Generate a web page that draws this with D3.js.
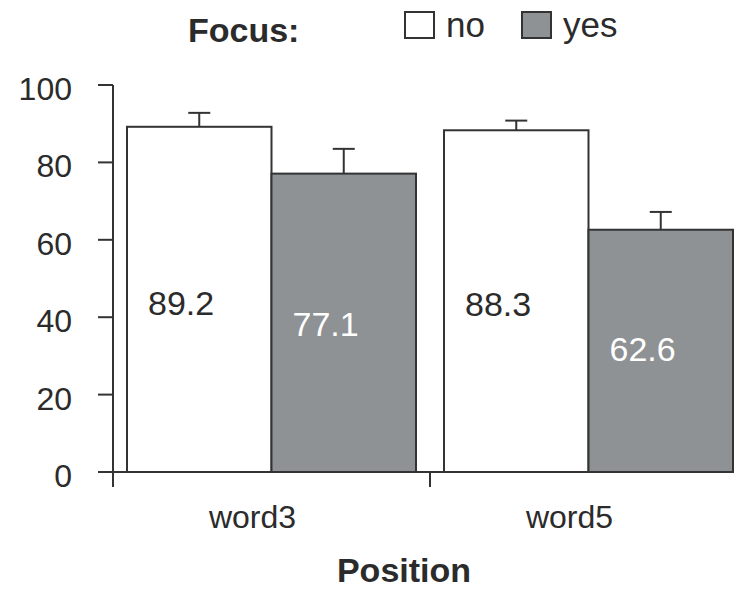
<!DOCTYPE html>
<html>
<head>
<meta charset="utf-8">
<script src="https://cdn.jsdelivr.net/npm/d3@7"></script>
<style>
	body { margin: 0; background: #fff; }
	svg text { font-family: "Liberation Sans", Arial, Helvetica, sans-serif; fill: #2b2b2b; }
	.bold { font-weight: bold; }
</style>
</head>
<body>
<div id="chart-area"></div>
<script>

// data
var positions = ["word3", "word5"];
var focusLevels = ["no", "yes"];
var meanNo = [89.2, 88.3];
var meanYes = [77.1, 62.6];
var errNo = [3.6, 2.5];
var errYes = [6.4, 4.6];
var yTicks = [0, 20, 40, 60, 80, 100];

/*
 * BarVis - grouped bars with error bars
 */
BarVis = function(_parentElement, _data){
	this.parentElement = _parentElement;
	this.data = _data;
	this.initVis();
}

BarVis.prototype.initVis = function(){
	var vis = this;

	vis.width = 738;
	vis.height = 590;

	vis.svg = d3.select("#" + vis.parentElement).append("svg")
		.attr("width", vis.width)
		.attr("height", vis.height);

	vis.stroke = "#333333";
	vis.colors = { no: "#ffffff", yes: "#8f9294" };

	// Scales
	vis.y = d3.scaleLinear()
		.domain([0, 100])
		.range([472, 85]);

	vis.x0 = d3.scaleBand()
		.domain(positions)
		.range([113, 747]);

	vis.x1 = d3.scaleBand()
		.domain(focusLevels)
		.range([14, vis.x0.bandwidth() - 14]);

	vis.updateVis();
}

BarVis.prototype.updateVis = function(){
	var vis = this;

	// y axis: ticks to the left, line running a bit below zero
	var yAxis = vis.svg.append("g").attr("class", "y-axis");

	yAxis.append("line")
		.attr("x1", 113).attr("x2", 113)
		.attr("y1", vis.y(100)).attr("y2", vis.y(0) + 15)
		.attr("stroke", vis.stroke).attr("stroke-width", 2);

	yAxis.selectAll(".tick")
		.data(yTicks)
		.enter().append("line")
		.attr("x1", 98).attr("x2", 113)
		.attr("y1", function(d){ return vis.y(d); })
		.attr("y2", function(d){ return vis.y(d); })
		.attr("stroke", vis.stroke).attr("stroke-width", 2);

	yAxis.selectAll(".tick-label")
		.data(yTicks)
		.enter().append("text")
		.attr("x", 72)
		.attr("y", function(d){ return vis.y(d) + 15; })
		.attr("text-anchor", "end")
		.style("font-size", "32px")
		.text(function(d){ return d; });

	// groups
	var groups = vis.svg.selectAll(".group")
		.data(vis.data)
		.enter().append("g")
		.attr("class", "group")
		.attr("transform", function(d){ return "translate(" + vis.x0(d.position) + ",0)"; });

	groups.selectAll("rect")
		.data(function(d){ return d.values; })
		.enter().append("rect")
		.attr("x", function(d){ return vis.x1(d.focus); })
		.attr("y", function(d){ return vis.y(d.mean); })
		.attr("width", vis.x1.bandwidth())
		.attr("height", function(d){ return vis.y(0) - vis.y(d.mean); })
		.attr("fill", function(d){ return vis.colors[d.focus]; })
		.attr("stroke", vis.stroke)
		.attr("stroke-width", 2);

	// error bars (upper only)
	groups.selectAll(".err")
		.data(function(d){ return d.values; })
		.enter().append("line")
		.attr("class", "err")
		.attr("x1", function(d){ return vis.x1(d.focus) + vis.x1.bandwidth() / 2; })
		.attr("x2", function(d){ return vis.x1(d.focus) + vis.x1.bandwidth() / 2; })
		.attr("y1", function(d){ return vis.y(d.mean); })
		.attr("y2", function(d){ return vis.y(d.mean + d.err); })
		.attr("stroke", vis.stroke).attr("stroke-width", 2);

	groups.selectAll(".cap")
		.data(function(d){ return d.values; })
		.enter().append("line")
		.attr("class", "cap")
		.attr("x1", function(d){ return vis.x1(d.focus) + vis.x1.bandwidth() / 2 - 11; })
		.attr("x2", function(d){ return vis.x1(d.focus) + vis.x1.bandwidth() / 2 + 11; })
		.attr("y1", function(d){ return vis.y(d.mean + d.err); })
		.attr("y2", function(d){ return vis.y(d.mean + d.err); })
		.attr("stroke", vis.stroke).attr("stroke-width", 2);

	// value labels inside bars
	groups.selectAll(".val")
		.data(function(d){ return d.values; })
		.enter().append("text")
		.attr("class", "val")
		.attr("x", function(d){ return vis.x1(d.focus) + 21; })
		.attr("y", function(d){ return vis.y(d.mean * 0.45) - 2; })
		.style("font-size", "34px")
		.style("fill", function(d){ return d.focus == "yes" ? "#ffffff" : "#2b2b2b"; })
		.text(function(d){ return d.mean.toFixed(1); });

	// x axis
	var xAxis = vis.svg.append("g").attr("class", "x-axis");

	xAxis.append("line")
		.attr("x1", 98).attr("x2", 734)
		.attr("y1", vis.y(0)).attr("y2", vis.y(0))
		.attr("stroke", vis.stroke).attr("stroke-width", 2);

	xAxis.append("line")
		.attr("x1", vis.x0("word5")).attr("x2", vis.x0("word5"))
		.attr("y1", vis.y(0)).attr("y2", vis.y(0) + 15)
		.attr("stroke", vis.stroke).attr("stroke-width", 2);

	xAxis.selectAll(".x-label")
		.data(positions)
		.enter().append("text")
		.attr("x", function(d){ return vis.x0(d) + vis.x0.bandwidth() / 2 - 19; })
		.attr("y", 528)
		.attr("text-anchor", "middle")
		.style("font-size", "32px")
		.text(function(d){ return d; });

	vis.svg.append("text")
		.attr("class", "bold")
		.attr("x", 404)
		.attr("y", 582)
		.attr("text-anchor", "middle")
		.style("font-size", "34px")
		.text("Position");

	// legend
	vis.svg.append("text")
		.attr("class", "bold")
		.attr("x", 188)
		.attr("y", 42)
		.style("font-size", "34px")
		.text("Focus:");

	var legendX = { no: 405, yes: 522 };
	var legend = vis.svg.selectAll(".legend")
		.data(focusLevels)
		.enter().append("g")
		.attr("class", "legend")
		.attr("transform", function(d){ return "translate(" + legendX[d] + ",12)"; });

	legend.append("rect")
		.attr("width", 29).attr("height", 26)
		.attr("fill", function(d){ return vis.colors[d]; })
		.attr("stroke", vis.stroke).attr("stroke-width", 2);

	legend.append("text")
		.attr("x", 41)
		.attr("y", 25)
		.style("font-size", "35px")
		.text(function(d){ return d; });
}

var tableData = positions.map(function(p, i){
	return {
		position: p,
		values: [
			{ focus: "no", mean: meanNo[i], err: errNo[i] },
			{ focus: "yes", mean: meanYes[i], err: errYes[i] }
		]
	};
});

var barVis = new BarVis("chart-area", tableData);

</script>
</body>
</html>
